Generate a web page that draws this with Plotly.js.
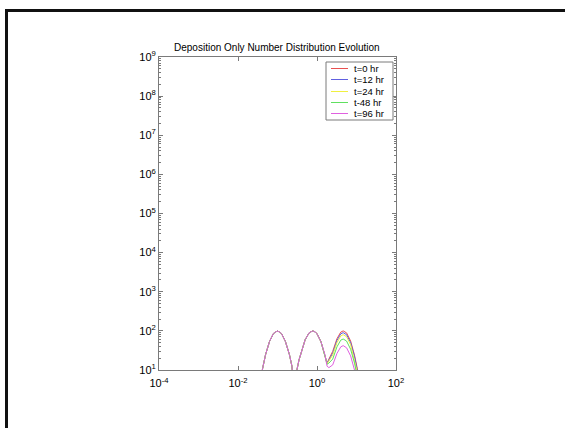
<!DOCTYPE html>
<html>
<head>
<meta charset="utf-8">
<script src="https://cdn.plot.ly/plotly-3.0.1.min.js"></script>
<style>
html,body{margin:0;padding:0;background:#fff;overflow:hidden;}
#wrap{position:relative;width:565px;height:428px;}
#chart{position:absolute;left:0;top:0;width:565px;height:428px;}
#frame{position:absolute;left:5px;top:9px;width:600px;height:500px;border-top:3px solid #111;border-left:3px solid #111;pointer-events:none;}
</style>
</head>
<body>
<div id="wrap"><div id="chart"></div><div id="frame"></div></div>
<script>
// Particle size (x) shared by all series
const sizes = [0.025, 0.035, 0.042, 0.05, 0.063, 0.079, 0.1, 0.126, 0.158, 0.2, 0.23, 0.27, 0.3, 0.35, 0.42, 0.5, 0.63, 0.78, 0.9, 1.0, 1.26, 1.58, 1.8, 2.0, 2.5, 3.2, 4.0, 4.6, 5.6, 7.1, 8.9, 10.5, 12, 14];

const t0  = [0.4, 4, 11, 25, 54, 86, 100, 86, 54, 25, 13, 3, 8.6, 18, 36, 59, 89, 100, 94, 84, 53, 25, 15, 19, 30, 63, 93, 100, 89, 55, 24, 10.8, 4.9, 1.7];
const t12 = [0.4, 4, 11, 25, 54, 86, 100, 86, 54, 25, 13, 3, 8.6, 18, 36, 59, 89, 100, 94, 84, 53, 25, 15, 18, 27, 57, 84, 90, 80, 50, 22, 9.7, 4.4, 1.5];
const t24 = [0.4, 4, 11, 25, 54, 86, 100, 86, 54, 25, 13, 3, 8.6, 18, 36, 59, 89, 100, 94, 84, 53, 25, 14.5, 17, 24, 50, 74, 80, 71, 44, 19, 8.6, 3.9, 1.4];
const t48 = [0.4, 4, 11, 25, 54, 86, 100, 86, 54, 25, 13, 3, 8.6, 18, 36, 59, 89, 100, 94, 84, 53, 25, 14, 15, 19, 39, 58, 62, 55, 34, 15, 6.7, 3, 1.05];
const t96 = [0.4, 4, 11, 25, 54, 86, 100, 86, 54, 25, 13, 3, 8.6, 18, 36, 59, 89, 100, 94, 84, 53, 25, 12.5, 11.5, 13.5, 26.5, 39, 42, 37, 23, 10, 4.5, 2, 0.7];

const seriesNames = ['t=0 hr', 't=12 hr', 't=24 hr', 't-48 hr', 't=96 hr'];
const seriesColors = ['#e85050', '#6060e0', '#f0f040', '#60e060', '#e060e0'];

const xTickVals = [1e-4, 1e-2, 1, 1e2];
const xTickText = ['10<sup>-4</sup>', '10<sup>-2</sup>', '10<sup>0</sup>', '10<sup>2</sup>'];
const yTickVals = [1e1, 1e2, 1e3, 1e4, 1e5, 1e6, 1e7, 1e8, 1e9];
const yTickText = ['10<sup>1</sup>', '10<sup>2</sup>', '10<sup>3</sup>', '10<sup>4</sup>', '10<sup>5</sup>', '10<sup>6</sup>', '10<sup>7</sup>', '10<sup>8</sup>', '10<sup>9</sup>'];

const allY = [t0, t12, t24, t48, t96];

const traces = allY.map((ys, i) => ({
  x: sizes, y: ys, type: 'scatter', mode: 'lines', name: seriesNames[i],
  line: {color: seriesColors[i], width: 1}, showlegend: false
}));

const W = 565, H = 428, L = 159, R = 169, T = 57, B = 58;
const pw = W - L - R, ph = H - T - B;
const px = v => (v - L) / pw;
const py = v => (H - B - v) / ph;

const axisColor = '#7a7a7a';
const FONT = 'Liberation Sans, Arial, sans-serif';
const shapes = [];
const annotations = [];
// legend box
shapes.push({type: 'rect', xref: 'paper', yref: 'paper', x0: px(326), x1: px(393), y0: py(120), y1: py(62),
  line: {color: axisColor, width: 1}, fillcolor: '#fff', layer: 'above'});
const rowY = [68.5, 79.5, 91.5, 102.5, 113.5];
seriesNames.forEach((n, i) => {
  shapes.push({type: 'line', xref: 'paper', yref: 'paper', x0: px(331), x1: px(348), y0: py(rowY[i]), y1: py(rowY[i]),
    line: {color: seriesColors[i], width: 1}, layer: 'above'});
  annotations.push({xref: 'paper', yref: 'paper', x: px(352), y: py(rowY[i]), xanchor: 'left', yanchor: 'middle',
    text: n, showarrow: false, font: {family: FONT, size: 9.5, color: '#000'}});
});

const layout = {
  width: W, height: H,
  margin: {l: L, r: R, t: T, b: B, pad: 0},
  paper_bgcolor: 'rgba(0,0,0,0)', plot_bgcolor: '#fff',
  font: {family: FONT, size: 10, color: '#000'},
  title: {text: 'Deposition Only Number Distribution Evolution', x: 0.49, xanchor: 'center', y: 1 - 47 / H, yanchor: 'middle',
    font: {family: FONT, size: 10, color: '#000'}},
  xaxis: {type: 'log', range: [-4, 2], tickmode: 'array', tickvals: xTickVals, ticktext: xTickText,
    ticks: 'inside', ticklen: 4, tickcolor: axisColor, showline: true, linecolor: axisColor, linewidth: 1,
    mirror: 'ticks', showgrid: false, zeroline: false, tickfont: {size: 11}, ticklabelstandoff: 3},
  yaxis: {type: 'log', range: [1, 9], tickmode: 'array', tickvals: yTickVals, ticktext: yTickText,
    ticks: 'inside', ticklen: 4, tickcolor: axisColor, showline: true, linecolor: axisColor, linewidth: 1,
    mirror: 'ticks', showgrid: false, zeroline: false, tickfont: {size: 11},
    minor: {ticks: 'inside', ticklen: 2, tickcolor: axisColor, dtick: 'D1', showgrid: false}},
  shapes: shapes,
  annotations: annotations
};

Plotly.newPlot('chart', traces, layout, {staticPlot: true, displayModeBar: false});
</script>
</body>
</html>
